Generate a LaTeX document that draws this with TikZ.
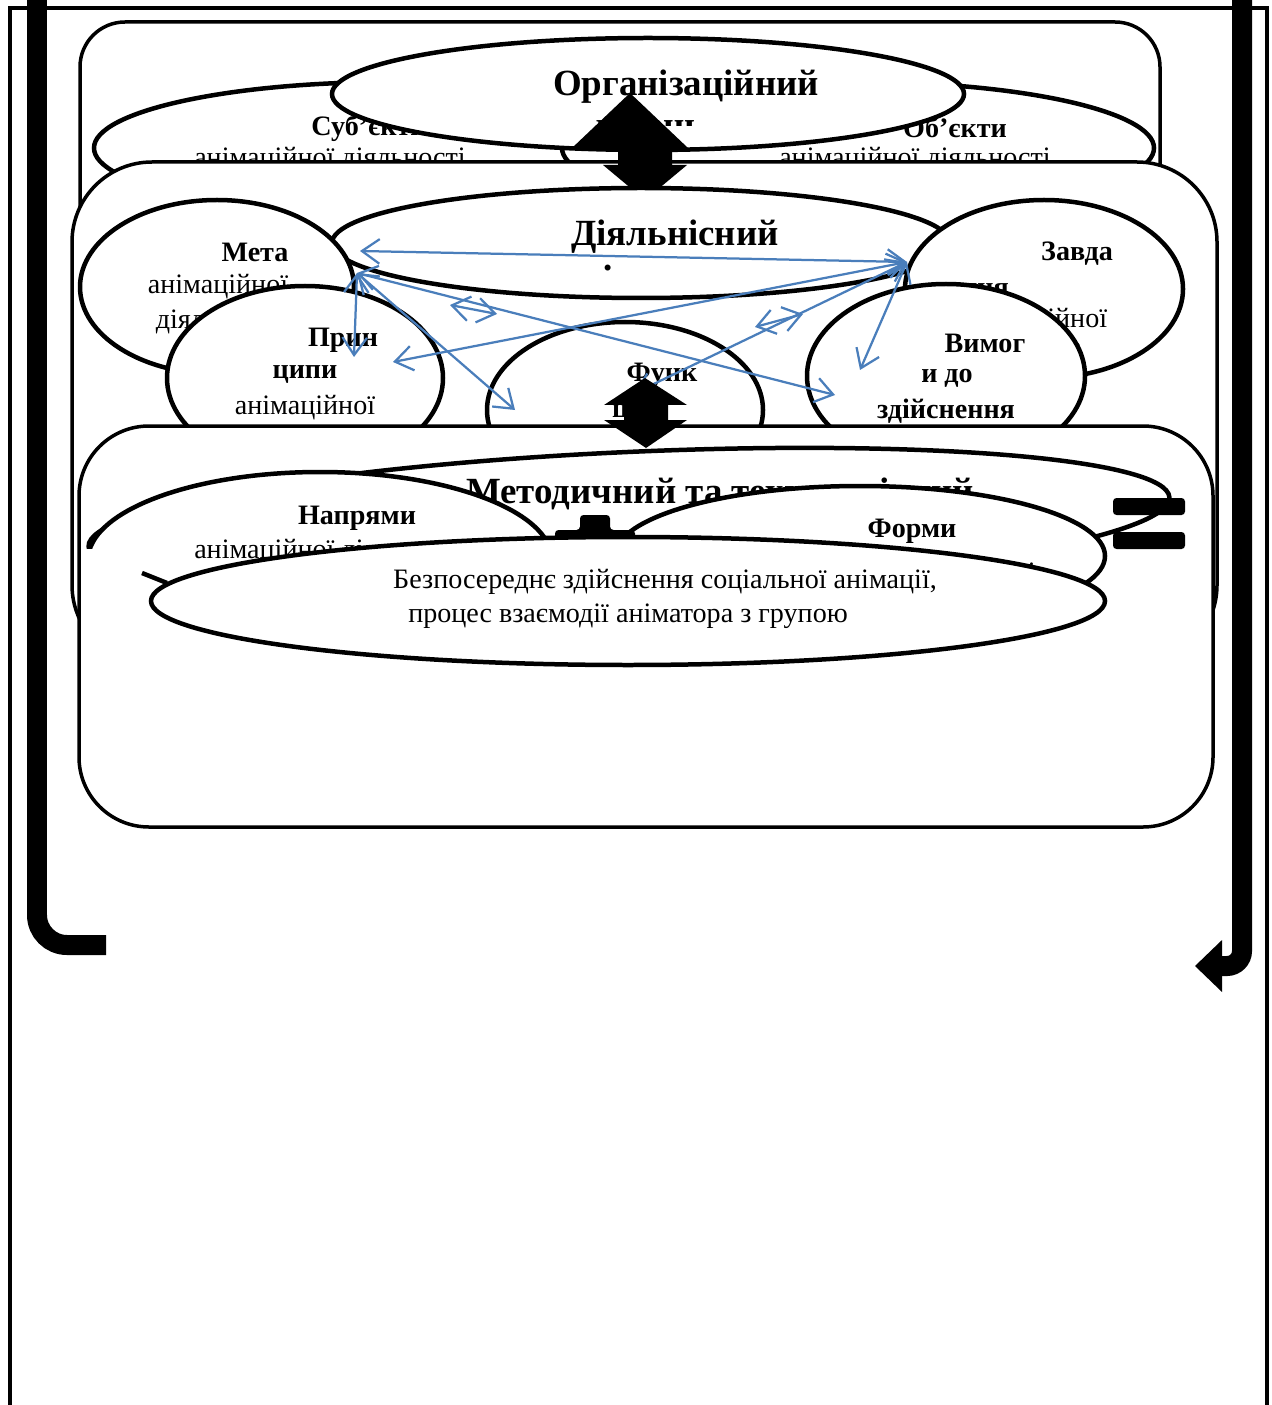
\documentclass[tikz,border=0pt]{standalone}
\usepackage{fontspec}
\setmainfont{Liberation Serif}
\usepackage{tikz}
\usetikzlibrary{arrows.meta}
\definecolor{linkblue}{RGB}{74,126,187}

\begin{document}
\begin{tikzpicture}[x=0.02cm,y=-0.02cm,
		oval/.style={draw,fill=white,line width=0.09cm},
		levelbox/.style={draw,fill=white,line width=0.07cm,rounded corners=#1},
		lbl/.style={inner sep=0pt,font=\fontsize{16}{20}\selectfont},
		blbl/.style={inner sep=0pt,font=\fontsize{16}{20}\selectfont\bfseries},
		ttl/.style={inner sep=0pt,font=\fontsize{21}{24}\selectfont\bfseries},
		link/.style={linkblue,line width=0.045cm,{Straight Barb[length=10pt,width=14pt]}-{Straight Barb[length=10pt,width=14pt]}},
		bar/.style={line width=0.4cm}]
		\clip (0,0) rectangle (1271,1405);
		\draw[line width=0.08cm] (10,8) rectangle (1267,1450);
		\draw[bar,rounded corners=0.6cm] (37,-20) -- (37,945) -- (106,945);
		\draw[bar,rounded corners=0.3cm] (1242,-20) -- (1242,966) -- (1218,966);
		\fill (1222,940) -- (1195,966) -- (1222,992) -- cycle;
		
		\draw[levelbox=0.9cm] (80,22) rectangle (1160,420);
		\draw[oval] (392,148) ellipse (298 and 66);
		\node[blbl] (subT1) at (369,128) {Суб’єкти};
		\node[lbl] (subT2) at (330,160) {анімаційної діяльності};
		\draw[oval] (858,148) ellipse (296 and 66);
		\node[blbl] (obT1) at (955,128) {Об’єкти};
		\node[lbl] (obT2) at (915,160) {анімаційної діяльності};
		\draw[oval] (648,94) ellipse (316 and 56);
		\node[ttl] (orgT1) at (686,87) {Організаційний};
		\begin{scope}
			\clip (0,0) rectangle (1271,126);
			\node[ttl] (orgT2) at (650,129) {рівень};
		\end{scope}
		
		\draw[levelbox=1.6cm] (72,162) rectangle (1217,665);
		\fill (572,148) -- (630,93) -- (688,148) -- (672,148) -- (672,165) -- (687,165) -- (645,200) -- (603,165) -- (618,165) -- (618,148) -- cycle;
		\draw[oval] (641,243) ellipse (309 and 55);
		\node[ttl] (diaT1) at (675,237) {Діяльнісний};
		\node[ttl] (diaT2) at (608,268) {.};
		\draw[oval] (217,287) ellipse (137 and 87);
		\node[blbl] (metaT1) at (255,252) {Мета};
		\node[lbl] (metaT2) at (218,287) {анімаційної};
		\node[lbl] (metaT3) at (218,322) {діяльності};
		\draw[oval] (1044,289) ellipse (139 and 89);
		\node[blbl] (zavT1) at (1077,254) {Завда};
		\node[blbl] (zavT2) at (985,290) {ння};
		\node[lbl] (zavT3) at (1037,321) {анімаційної};
		\node[lbl] (zavT4) at (1020,356) {діяльності};
		\draw[oval] (305,378) ellipse (138 and 92);
		\node[blbl] (prinT1) at (343,340) {Прин};
		\node[blbl] (prinT2) at (305,374) {ципи};
		\node[lbl] (prinT3) at (305,408) {анімаційної};
		\draw[oval] (625,410) ellipse (138 and 88);
		\node[blbl] (funcT1) at (662,375) {Функ};
		\node[blbl] (funcT2) at (628,410) {ції};
		\draw[oval] (946,376) ellipse (139 and 92);
		\node[blbl] (vymT1) at (985,343) {Вимог};
		\node[blbl] (vymT2) at (947,378) {и до};
		\node[blbl] (vymT3) at (946,411) {здійснення};
		
		\coordinate (metaA) at (360,251);
		\coordinate (metaB) at (357,273);
		\coordinate (zavA) at (907,262);
		\coordinate (prinA) at (354,357);
		\coordinate (prinB) at (393,362);
		\coordinate (funcA) at (515,410);
		\coordinate (funcB) at (635,393);
		\coordinate (vymA) at (835,395);
		\coordinate (vymB) at (860,370);
		\coordinate (sLa) at (450,305);
		\coordinate (sLb) at (497,314);
		\coordinate (sRa) at (755,327);
		\coordinate (sRb) at (803,314);
		\draw[link] (metaA) -- (zavA);
		\draw[link] (metaB) -- (prinA);
		\draw[link] (metaB) -- (funcA);
		\draw[link] (metaB) -- (vymA);
		\draw[link] (zavA) -- (prinB);
		\draw[link] (zavA) -- (funcB);
		\draw[link] (zavA) -- (vymB);
		\draw[link] (sLa) -- (sLb);
		\draw[link] (sRa) -- (sRb);
		
		\draw[levelbox=1.4cm] (79,426) rectangle (1213,827);
		\fill (604,405) -- (645,378) -- (687,405) -- (668,405) -- (668,420) -- (687,420) -- (646,448) -- (604,420) -- (624,420) -- (624,405) -- cycle;
		\begin{scope}
			\clip (0,0) rectangle (1271,548);
			\draw[oval,rotate around={2.6:(629,522)}] (629,522) ellipse (541 and 70);
			\node[ttl] (metT) at (720,494) {Методичний та технологічний};
			\draw[oval] (320,560) ellipse (232 and 88);
		\end{scope}
		\node[blbl] (napT1) at (357,518) {Напрями};
		\node[lbl] (napT2) at (330,552) {анімаційної діяльності};
		\draw[oval] (860,556) ellipse (245 and 70);
		\node[blbl] (formT1) at (912,531) {Форми};
		\node[lbl] (formT2) at (900,575) {анімаційної діяльності};
		\fill[rounded corners=2pt] (580,515) -- (610,515) -- (610,530) -- (635,530) -- (635,548) -- (555,548) -- (555,530) -- (580,530) -- cycle;
		\draw[oval] (628,601) ellipse (477 and 64);
		\node[lbl] (bezT1) at (665,582) {Безпосереднє здійснення соціальної анімації,};
		\node[lbl] (bezT2) at (628,616) {процес взаємодії аніматора з групою};
		\draw[line width=0.09cm] (142,573) -- (167,583);
		\fill[rounded corners=2pt] (1113,498) rectangle (1185,515);
		\fill[rounded corners=2pt] (1113,532) rectangle (1185,549);
		
\end{tikzpicture}
\end{document}
